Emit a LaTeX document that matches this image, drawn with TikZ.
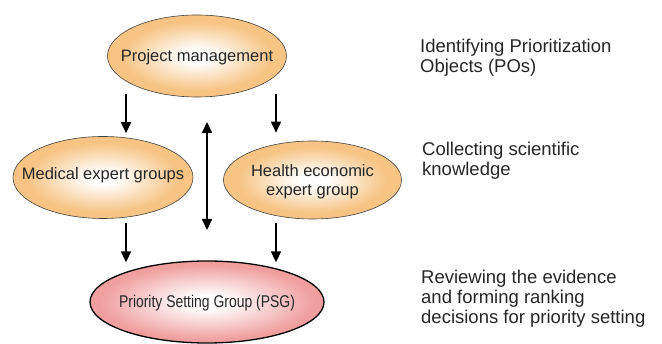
\documentclass[tikz,border=0pt]{standalone}
\usepackage{fontspec}
\setmainfont{Liberation Sans}
\usetikzlibrary{shapes.geometric,arrows.meta}
\tikzset {>={Triangle[width=10pt,length=11pt]}}
\definecolor{peach}{RGB}{247,196,132}
\definecolor{rose}{RGB}{240,158,158}
\pgfdeclareradialshading{peachfade}{\pgfpoint{0bp}{0bp}}{color(0bp)=(white); color(4bp)=(white); color(21bp)=(peach); color(50bp)=(peach)}
\pgfdeclareradialshading{rosefade}{\pgfpoint{0bp}{0bp}}{color(0bp)=(white); color(4bp)=(white); color(23bp)=(rose); color(50bp)=(rose)}

\begin{document}
\begin{tikzpicture}[x=1pt,y=-1pt,
  bubble/.style={ellipse,draw=black!75,line width=0.6pt,inner sep=0pt,shading=peachfade},
  psgbubble/.style={ellipse,draw=black,line width=1.3pt,inner sep=0pt,shading=rosefade},
  intext/.style={inner sep=0pt,align=center,text=black!85,font=\fontsize{16.5}{19}\selectfont},
  phasenote/.style={anchor=base west,inner sep=0pt,align=left,text=black!85,font=\fontsize{18.5}{20}\selectfont},
  flow/.style={->,line width=1.7pt}]

\useasboundingbox (0,0) rectangle (662,344);

% Place the groups
\node[bubble,minimum width=179pt,minimum height=82pt] (pm) at (197,56) {};
\node[bubble,minimum width=180pt,minimum height=82pt] (med) at (103,177.5) {};
\node[bubble,minimum width=178pt,minimum height=78pt] (he) at (312.5,180) {};
\node[psgbubble,minimum width=234pt,minimum height=82pt] (psg) at (207,302) {};

\node[intext] (pm-text) at ([yshift=-1.5pt]pm) {Project management};
\node[intext] (med-text) at ([yshift=2pt]med) {Medical expert groups};
\node[intext] (he-text) at ([yshift=-2pt]he) {Health economic\\expert group};
\node[intext] (psg-text) at ([yshift=-1pt]psg) {\scalebox{0.82}[1]{\fontsize{17}{19}\selectfont Priority Setting Group (PSG)}};

% Draw arrows between the groups
\coordinate (lx) at (126,0);
\coordinate (rx) at (276,0);
\draw[flow,shorten <=-3pt,shorten >=3pt] (pm.south -| lx) -- (med.north -| lx);
\draw[flow,shorten <=-3pt,shorten >=8pt] (pm.south -| rx) -- (he.north -| rx);
\draw[flow,shorten <=4pt,shorten >=-2pt] (med.south -| lx) -- (psg.north -| lx);
\draw[flow,shorten <=4pt,shorten >=-2pt] (he.south -| rx) -- (psg.north -| rx);

% Draw feedback arrow
\coordinate (fb-top) at (207,122);
\coordinate (fb-bottom) at (207,230);
\draw[flow,<->] (fb-top) -- (fb-bottom);

% Phases on the right (base is the last line)
\node[phasenote] (phase-a) at (420,73) {Identifying Prioritization\\Objects (POs)};
\node[phasenote] (phase-b) at (422,176) {Collecting scientific\\knowledge};
\node[phasenote] (phase-c) at (421,323.5) {Reviewing the evidence\\and forming ranking\\decisions for priority setting};

\end{tikzpicture}
\end{document}
